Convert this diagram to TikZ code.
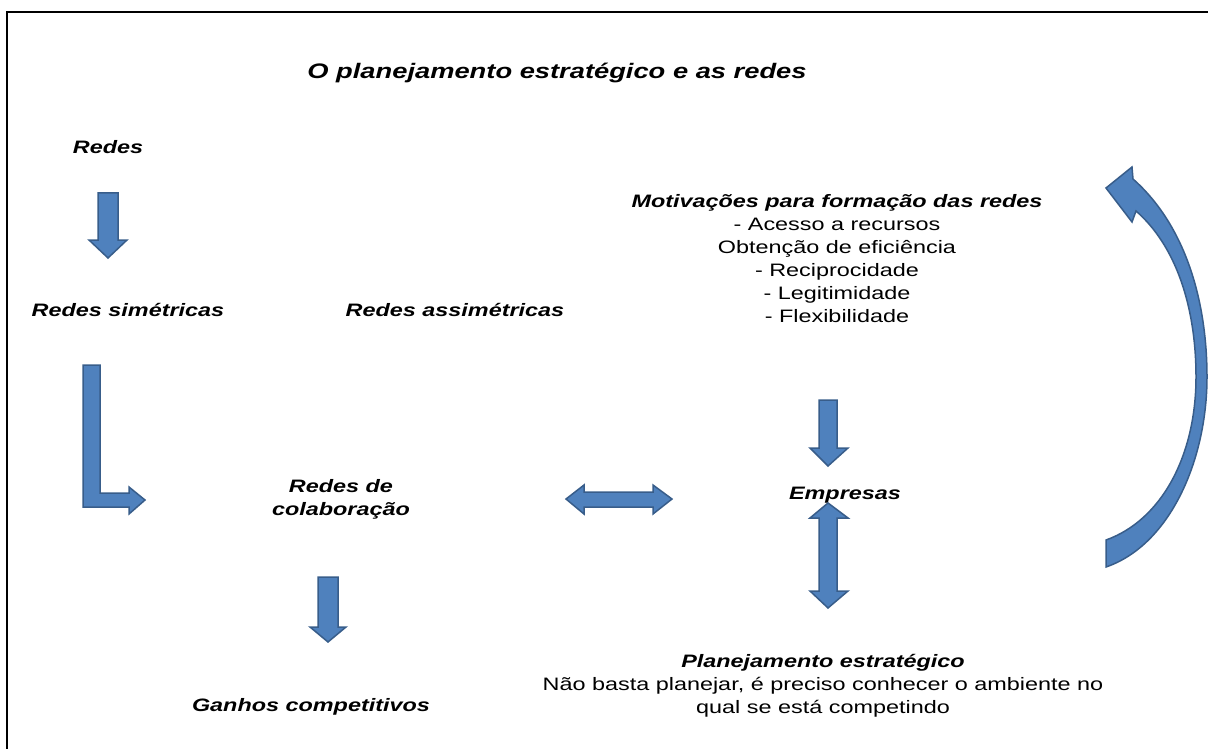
\documentclass[tikz,border=0pt]{standalone}
\usepackage{fontspec}
\setmainfont{Liberation Sans}[FakeStretch=1.3]
\definecolor{arrowfill}{HTML}{4F81BD}
\definecolor{arrowline}{HTML}{385D8A}
\begin{document}
\begin{tikzpicture}[x=1pt, y=-1pt,
  title node/.style={font=\fontsize{21}{25}\selectfont\bfseries\itshape, inner sep=0pt},
  label node/.style={font=\fontsize{18}{23}\selectfont\bfseries\itshape, align=center, inner sep=0pt},
  text node/.style={font=\fontsize{18}{23}\selectfont, align=center, inner sep=0pt},
  block arrow/.style={fill=arrowfill, draw=arrowline, line width=1.5pt, line join=miter},
  frame/.style={line width=2pt, black}]
\path[use as bounding box] (0,0) rectangle (1208,749);
\draw[frame] (1208,12) -- (7,12) -- (7,749);
  % Titel
\node[title node] (title) at (557,73) {O planejamento estratégico e as redes};
  % Linke Spalte
\node[label node] (redes) at (108,147) {Redes};
\node[label node] (simetricas) at (128,310) {Redes simétricas};
\node[label node] (assimetricas) at (455,310) {Redes assimétricas};
\node[label node] (colab) at (341,499) {Redes de\\colaboração};
\node[label node] (ganhos) at (311,707) {Ganhos competitivos};
  % Rechte Spalte
\node[text node] (motiv) at (837,259) {\textbf{\textit{Motivações para formação das redes}}\\
  - Acesso a recursos\\ Obtenção de eficiência\\ - Reciprocidade\\ - Legitimidade\\ - Flexibilidade};
\node[label node] (empresas) at (845,495) {Empresas};
\node[text node] (plano) at (823,686) {\textbf{\textit{Planejamento estratégico}}\\
  Não basta planejar, é preciso conhecer o ambiente no\\ qual se está competindo};
  % Pfeile
\path[block arrow] (98,193) -- (118,193) -- (118,240) -- (127,240) -- (108,258) -- (89,240) -- (98,240) -- cycle;
\path[block arrow] (83,365) -- (100,365) -- (100,493) -- (129,493) -- (129,487) -- (145,500) -- (129,514) -- (129,507) -- (83,507) -- cycle;
\path[block arrow] (566,499) -- (584,485) -- (584,492) -- (653,492) -- (653,485) -- (672,499) -- (653,514) -- (653,507) -- (584,507) -- (584,514) -- cycle;
\path[block arrow] (819,400) -- (837,400) -- (837,448) -- (848,448) -- (828,466) -- (810,448) -- (819,448) -- cycle;
\path[block arrow] (828,503) -- (848,518) -- (837,518) -- (837,591) -- (848,591) -- (828,608) -- (810,591) -- (819,591) -- (819,518) -- (810,518) -- cycle;
\path[block arrow] (318,577) -- (338,577) -- (338,627) -- (346,627) -- (328,642) -- (310,627) -- (318,627) -- cycle;
  % Bogenpfeil
\path[block arrow] (1106,188) -- (1132,167) -- (1133,179)
  .. controls (1185,225) and (1207,300) .. (1207,377)
  .. controls (1207,460) and (1170,545) .. (1106,567) -- (1106,540)
  .. controls (1162,520) and (1196,455) .. (1196,377)
  .. controls (1196,305) and (1175,245) .. (1136,211)
  -- (1132,222) -- cycle;
\end{tikzpicture}
\end{document}
